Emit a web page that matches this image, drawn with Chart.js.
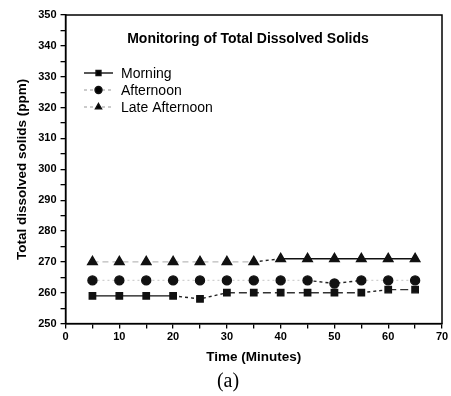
<!DOCTYPE html>
<html>
<head>
<meta charset="utf-8">
<script src="https://cdn.jsdelivr.net/npm/chart.js@4.4.1/dist/chart.umd.min.js"></script>
<style>
  html, body { margin: 0; padding: 0; background: #fff; }
  #wrap { width: 451px; height: 396px; position: relative; }
</style>
</head>
<body>
<div id="wrap"><canvas id="tdsChart"></canvas></div>
<script>
// temps de mesure (minutes)
const timeMinutes = [5, 10, 15, 20, 25, 30, 35, 40, 45, 50, 55, 60, 65];
const morning = [259, 259, 259, 259, 258, 260, 260, 260, 260, 260, 260, 261, 261];
const afternoon = [264, 264, 264, 264, 264, 264, 264, 264, 264, 263, 264, 264, 264];
const lateAfternoon = [270, 270, 270, 270, 270, 270, 270, 271, 271, 271, 271, 271, 271];
const seriesNames = ['Morning', 'Afternoon', 'Late Afternoon'];
const yTicks = [250, 260, 270, 280, 290, 300, 310, 320, 330, 340, 350];
const xTicks = [0, 10, 20, 30, 40, 50, 60, 70];

const FONT = "'Liberation Sans', Arial, sans-serif";

// style des segments : pointillés foncés quand la valeur change
function segColor(base) {
    return ctx => ctx.p0.parsed.y !== ctx.p1.parsed.y ? '#222' : base(ctx).color;
}
function segDash(base) {
    return ctx => ctx.p0.parsed.y !== ctx.p1.parsed.y ? [3, 3] : base(ctx).dash;
}
const morningStyle = ctx => ctx.p0DataIndex < 3 ? { color: '#111', dash: [] } : { color: '#333', dash: [8, 4] };
const afternoonStyle = ctx => ({ color: '#d0d0d0', dash: [2, 3] });
const lateStyle = ctx => ctx.p0DataIndex < 6 ? { color: '#bbb', dash: [6, 4] } : { color: '#111', dash: [] };

function makeSet(label, values, pointStyle, radius, base) {
    return {
        label: label,
        data: timeMinutes.map((t, i) => ({ x: t, y: values[i] })),
        borderColor: '#111',
        backgroundColor: '#111',
        pointBackgroundColor: '#111',
        pointBorderColor: '#111',
        pointStyle: pointStyle,
        pointRadius: radius,
        borderWidth: 1.4,
        segment: { borderColor: segColor(base), borderDash: segDash(base) }
    };
}

// cadre + titre + légende à l'intérieur du graphe
const framePlugin = {
    id: 'frame',
    afterDraw(chart) {
        const { ctx, chartArea: a } = chart;
        ctx.save();
        ctx.strokeStyle = '#000';
        ctx.lineWidth = 1.5;
        ctx.strokeRect(a.left, a.top, a.right - a.left, a.bottom - a.top);

        ctx.fillStyle = '#000';
        ctx.font = "bold 14px " + FONT;
        ctx.textAlign = 'center';
        ctx.textBaseline = 'middle';
        ctx.fillText('Monitoring of Total Dissolved Solids', 248, 39);

        const legend = [
            { style: 'rect', color: '#111', dash: [] },
            { style: 'circle', color: '#bbb', dash: [3, 3] },
            { style: 'triangle', color: '#bbb', dash: [3, 3] }
        ];
        ctx.font = "14px " + FONT;
        ctx.textAlign = 'left';
        legend.forEach((l, i) => {
            const y = 73 + i * 17;
            ctx.strokeStyle = l.color;
            ctx.lineWidth = 1.4;
            ctx.setLineDash(l.dash);
            ctx.beginPath();
            ctx.moveTo(84, y);
            ctx.lineTo(113, y);
            ctx.stroke();
            ctx.setLineDash([]);
            ctx.fillStyle = '#000';
            ctx.strokeStyle = '#111';
            Chart.helpers.drawPoint(ctx, { pointStyle: l.style, radius: 3.5, borderWidth: 1 }, 98.5, y);
            ctx.fillStyle = '#000';
            ctx.fillText(seriesNames[i], 121, y + 1);
        });
        ctx.restore();
    }
};

const axisCommon = {
    border: { display: true, color: '#000', width: 1.5 },
    grid: { display: true, drawOnChartArea: false, drawTicks: true, tickLength: 5, color: '#000', lineWidth: 1.3 },
    ticks: {
        color: '#000',
        font: { family: FONT, size: 11, weight: 'bold' },
        padding: 4
    }
};

new Chart(document.getElementById('tdsChart'), {
    type: 'line',
    data: {
        datasets: [
            makeSet(seriesNames[0], morning, 'rect', 4.5, morningStyle),
            makeSet(seriesNames[1], afternoon, 'circle', 4.5, afternoonStyle),
            makeSet(seriesNames[2], lateAfternoon, 'triangle', 5.5, lateStyle)
        ]
    },
    options: {
        responsive: true,
        maintainAspectRatio: false,
        animation: false,
        layout: { padding: { left: 14, right: 9, top: 15, bottom: 2 } },
        plugins: {
            legend: { display: false },
            tooltip: { enabled: false },
            title: {
                display: true,
                position: 'bottom',
                text: '(a)',
                color: '#000',
                font: { family: "'Liberation Serif', 'Times New Roman', serif", size: 20, weight: 'normal' },
                padding: { top: 0, bottom: 0 }
            }
        },
        scales: {
            x: {
                type: 'linear',
                min: 0,
                max: 70,
                ...axisCommon,
                ticks: {
                    ...axisCommon.ticks,
                    padding: 2,
                    stepSize: 5,
                    autoSkip: false,
                    maxRotation: 0,
                    callback: v => xTicks.includes(v) ? v : ''
                },
                title: {
                    display: true,
                    text: 'Time (Minutes)',
                    color: '#000',
                    font: { family: FONT, size: 13.5, weight: 'bold' },
                    padding: { top: 3, bottom: 5 }
                }
            },
            y: {
                type: 'linear',
                min: 250,
                max: 350,
                ...axisCommon,
                ticks: {
                    ...axisCommon.ticks,
                    stepSize: 5,
                    autoSkip: false,
                    callback: v => yTicks.includes(v) ? v : ''
                },
                title: {
                    display: true,
                    text: 'Total dissolved solids (ppm)',
                    color: '#000',
                    font: { family: FONT, size: 13.5, weight: 'bold' },
                    padding: { top: 0, bottom: 4 }
                }
            }
        }
    },
    plugins: [framePlugin]
});
</script>
</body>
</html>
